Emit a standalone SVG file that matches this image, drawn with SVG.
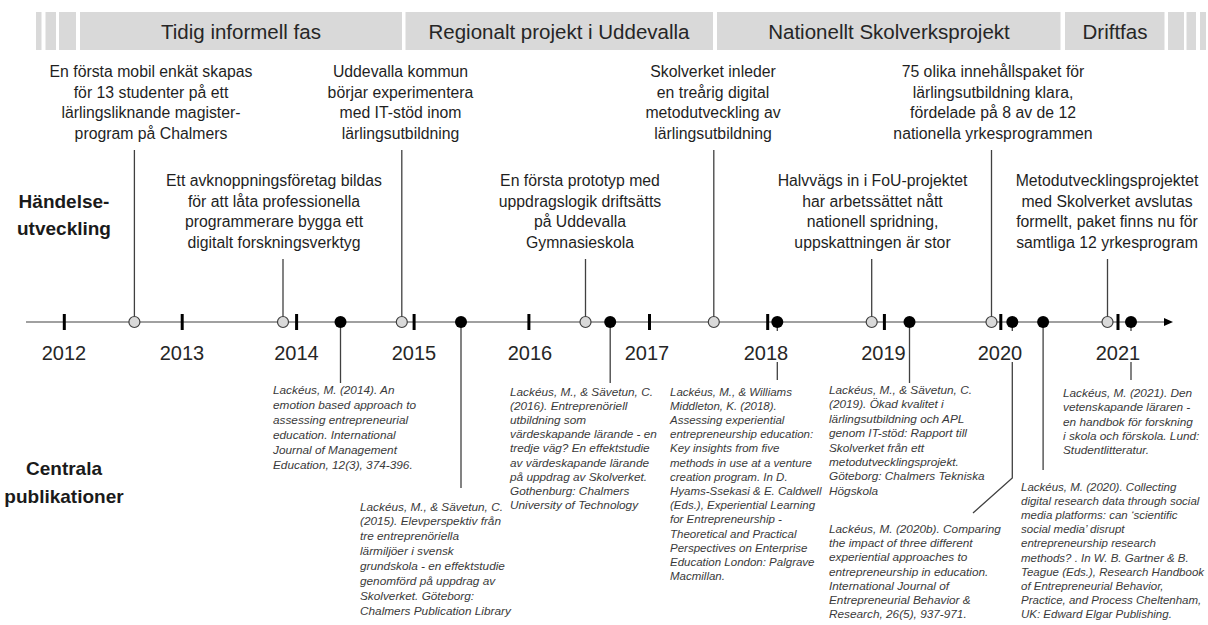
<svg xmlns="http://www.w3.org/2000/svg" width="1208" height="625" viewBox="0 0 1208 625">
  <style>
    text { font-family: "Liberation Sans", Arial, sans-serif; }
    .band { fill: #d9d9d9; }
    .band-t { font-size: 20.5px; fill: #262626; text-anchor: middle; }
    .ev { font-size: 15.8px; fill: #1f1f1f; text-anchor: middle; }
    .pub { font-size: 11.8px; font-style: italic; fill: #3a3a3a; }
    .pub-s { font-size: 11.5px; }
    .yr { font-size: 20px; fill: #262626; text-anchor: middle; }
    .lbl { font-size: 19px; font-weight: bold; fill: #1a1a1a; text-anchor: middle; }
    .conn { stroke: #404040; stroke-width: 1.3; fill: none; }
    .axis { stroke: #808080; stroke-width: 1.5; fill: none; }
    .ev-dot { fill: #d9d9d9; stroke: #404040; stroke-width: 1.2; }
    .pub-dot { fill: #000; }
    .tick { fill: #000; }
  </style>

  <!-- phase banner -->
  <g id="phases">
    <rect class="band" x="36" y="12" width="5.5" height="38"/>
    <rect class="band" x="45.5" y="12" width="10.5" height="38"/>
    <rect class="band" x="59" y="12" width="17" height="38"/>
    <g id="phase-tidig">
      <rect class="band" x="80" y="12" width="322" height="38"/>
      <text class="band-t" x="241" y="38.5">Tidig informell fas</text>
    </g>
    <g id="phase-regional">
      <rect class="band" x="405.5" y="12" width="307.5" height="38"/>
      <text class="band-t" x="559" y="38.5">Regionalt projekt i Uddevalla</text>
    </g>
    <g id="phase-national">
      <rect class="band" x="717" y="12" width="343.5" height="38"/>
      <text class="band-t" x="889" y="38.5">Nationellt Skolverksprojekt</text>
    </g>
    <g id="phase-drift">
      <rect class="band" x="1065" y="12" width="99.5" height="38"/>
      <text class="band-t" x="1115" y="38.5">Driftfas</text>
    </g>
    <rect class="band" x="1168" y="12" width="16" height="38"/>
    <rect class="band" x="1186.5" y="12" width="9.5" height="38"/>
    <rect class="band" x="1200" y="12" width="6" height="38"/>
  </g>

  <!-- row labels -->
  <g id="label-events">
    <text class="lbl" x="64" y="208">Händelse-</text>
    <text class="lbl" x="64" y="235">utveckling</text>
  </g>
  <g id="label-pubs">
    <text class="lbl" x="64" y="475">Centrala</text>
    <text class="lbl" x="64" y="503">publikationer</text>
  </g>

  <!-- connectors: axis, event stems and publication stems -->
  <g id="connectors">
    <line class="axis" x1="26" y1="322" x2="1166" y2="322"/>
    <polygon points="1173,322 1164,318 1164,326" fill="#000"/>

    <line class="conn" x1="134.4" y1="150" x2="134.4" y2="316.5"/>
    <line class="conn" x1="283" y1="259" x2="283" y2="316.5"/>
    <line class="conn" x1="401.8" y1="150" x2="401.8" y2="316.5"/>
    <line class="conn" x1="585.5" y1="259" x2="585.5" y2="316.5"/>
    <line class="conn" x1="713.8" y1="150" x2="713.8" y2="316.5"/>
    <line class="conn" x1="871.7" y1="259" x2="871.7" y2="316.5"/>
    <line class="conn" x1="991.5" y1="150" x2="991.5" y2="316.5"/>
    <line class="conn" x1="1107.5" y1="259" x2="1107.5" y2="316.5"/>

    <line class="conn" x1="340.5" y1="322" x2="340.5" y2="383"/>
    <line class="conn" x1="461" y1="322" x2="461" y2="488"/>
    <line class="conn" x1="610.2" y1="322" x2="610.2" y2="383"/>
    <line class="conn" x1="777.3" y1="322" x2="777.3" y2="331"/>
    <line class="conn" x1="777.3" y1="362" x2="777.3" y2="380"/>
    <line class="conn" x1="909.5" y1="322" x2="909.5" y2="383"/>
    <line class="conn" x1="1012.3" y1="322" x2="1012.3" y2="331"/>
    <polyline class="conn" points="1012.3,362 1012.3,478 973,513"/>
    <line class="conn" x1="1043.1" y1="322" x2="1043.1" y2="470"/>
    <line class="conn" x1="1131" y1="322" x2="1131" y2="331"/>
    <line class="conn" x1="1131" y1="362" x2="1131" y2="380"/>
  </g>

  <!-- year ticks and labels -->
  <g id="years">
    <rect class="tick" x="62.8" y="314" width="3" height="16"/>
    <rect class="tick" x="180.7" y="314" width="3" height="16"/>
    <rect class="tick" x="295.1" y="314" width="3" height="16"/>
    <rect class="tick" x="412.6" y="314" width="3" height="16"/>
    <rect class="tick" x="527.4" y="314" width="3" height="16"/>
    <rect class="tick" x="648" y="314" width="3" height="16"/>
    <rect class="tick" x="766.2" y="314" width="3" height="16"/>
    <rect class="tick" x="882.9" y="314" width="3" height="16"/>
    <rect class="tick" x="999.3" y="314" width="3" height="16"/>
    <rect class="tick" x="1116.5" y="314" width="3" height="16"/>
    <text class="yr" x="64" y="360">2012</text>
    <text class="yr" x="182" y="360">2013</text>
    <text class="yr" x="296.5" y="360">2014</text>
    <text class="yr" x="414" y="360">2015</text>
    <text class="yr" x="530" y="360">2016</text>
    <text class="yr" x="647" y="360">2017</text>
    <text class="yr" x="766" y="360">2018</text>
    <text class="yr" x="883.5" y="360">2019</text>
    <text class="yr" x="1000" y="360">2020</text>
    <text class="yr" x="1118" y="360">2021</text>
  </g>

  <!-- events -->
  <g id="event-2012">
    <circle class="ev-dot" cx="134.4" cy="322" r="5.5"/>
    <text class="ev" x="151" y="77">En första mobil enkät skapas</text>
    <text class="ev" x="151" y="97.5">för 13 studenter på ett</text>
    <text class="ev" x="151" y="118">lärlingsliknande magister-</text>
    <text class="ev" x="151" y="138.5">program på Chalmers</text>
  </g>
  <g id="event-2013">
    <circle class="ev-dot" cx="283" cy="322" r="5.5"/>
    <text class="ev" x="274" y="186">Ett avknoppningsföretag bildas</text>
    <text class="ev" x="274" y="206.5">för att låta professionella</text>
    <text class="ev" x="274" y="227">programmerare bygga ett</text>
    <text class="ev" x="274" y="247.5">digitalt forskningsverktyg</text>
  </g>
  <g id="event-2014">
    <circle class="ev-dot" cx="401.8" cy="322" r="5.5"/>
    <text class="ev" x="400.5" y="77">Uddevalla kommun</text>
    <text class="ev" x="400.5" y="97.5">börjar experimentera</text>
    <text class="ev" x="400.5" y="118">med IT-stöd inom</text>
    <text class="ev" x="400.5" y="138.5">lärlingsutbildning</text>
  </g>
  <g id="event-2016">
    <circle class="ev-dot" cx="585.5" cy="322" r="5.5"/>
    <text class="ev" x="580" y="186">En första prototyp med</text>
    <text class="ev" x="580" y="206.5">uppdragslogik driftsätts</text>
    <text class="ev" x="580" y="227">på Uddevalla</text>
    <text class="ev" x="580" y="247.5">Gymnasieskola</text>
  </g>
  <g id="event-2017">
    <circle class="ev-dot" cx="713.8" cy="322" r="5.5"/>
    <text class="ev" x="713" y="77">Skolverket inleder</text>
    <text class="ev" x="713" y="97.5">en treårig digital</text>
    <text class="ev" x="713" y="118">metodutveckling av</text>
    <text class="ev" x="713" y="138.5">lärlingsutbildning</text>
  </g>
  <g id="event-2018">
    <circle class="ev-dot" cx="871.7" cy="322" r="5.5"/>
    <text class="ev" x="872.5" y="186">Halvvägs in i FoU-projektet</text>
    <text class="ev" x="872.5" y="206.5">har arbetssättet nått</text>
    <text class="ev" x="872.5" y="227">nationell spridning,</text>
    <text class="ev" x="872.5" y="247.5">uppskattningen är stor</text>
  </g>
  <g id="event-2019">
    <circle class="ev-dot" cx="991.5" cy="322" r="5.5"/>
    <text class="ev" x="993" y="77">75 olika innehållspaket för</text>
    <text class="ev" x="993" y="97.5">lärlingsutbildning klara,</text>
    <text class="ev" x="993" y="118">fördelade på 8 av de 12</text>
    <text class="ev" x="993" y="138.5">nationella yrkesprogrammen</text>
  </g>
  <g id="event-2020">
    <circle class="ev-dot" cx="1107.5" cy="322" r="5.5"/>
    <text class="ev" x="1107" y="186">Metodutvecklingsprojektet</text>
    <text class="ev" x="1107" y="206.5">med Skolverket avslutas</text>
    <text class="ev" x="1107" y="227">formellt, paket finns nu för</text>
    <text class="ev" x="1107" y="247.5">samtliga 12 yrkesprogram</text>
  </g>

  <!-- publications -->
  <g id="pub-2014">
    <circle class="pub-dot" cx="340.5" cy="322" r="6"/>
    <text class="pub" x="273" y="394">Lackéus, M. (2014). An</text>
    <text class="pub" x="273" y="409">emotion based approach to</text>
    <text class="pub" x="273" y="424">assessing entrepreneurial</text>
    <text class="pub" x="273" y="439">education. International</text>
    <text class="pub" x="273" y="454">Journal of Management</text>
    <text class="pub" x="273" y="469">Education, 12(3), 374-396.</text>
  </g>
  <g id="pub-2015">
    <circle class="pub-dot" cx="461" cy="322" r="6"/>
    <text class="pub" x="360" y="510.5">Lackéus, M., &amp; Sävetun, C.</text>
    <text class="pub" x="360" y="525.4">(2015). Elevperspektiv från</text>
    <text class="pub" x="360" y="540.3">tre entreprenöriella</text>
    <text class="pub" x="360" y="555.2">lärmiljöer i svensk</text>
    <text class="pub" x="360" y="570.1">grundskola - en effektstudie</text>
    <text class="pub" x="360" y="585">genomförd på uppdrag av</text>
    <text class="pub" x="360" y="599.9">Skolverket. Göteborg:</text>
    <text class="pub" x="360" y="614.8">Chalmers Publication Library</text>
  </g>
  <g id="pub-2016">
    <circle class="pub-dot" cx="610.2" cy="322" r="6"/>
    <text class="pub" x="510" y="395.5">Lackéus, M., &amp; Sävetun, C.</text>
    <text class="pub" x="510" y="409.7">(2016). Entreprenöriell</text>
    <text class="pub" x="510" y="423.9">utbildning som</text>
    <text class="pub" x="510" y="438.1">värdeskapande lärande - en</text>
    <text class="pub" x="510" y="452.3">tredje väg? En effektstudie</text>
    <text class="pub" x="510" y="466.5">av värdeskapande lärande</text>
    <text class="pub" x="510" y="480.7">på uppdrag av Skolverket.</text>
    <text class="pub" x="510" y="494.9">Gothenburg: Chalmers</text>
    <text class="pub" x="510" y="509.1">University of Technology</text>
  </g>
  <g id="pub-2018">
    <circle class="pub-dot" cx="777.3" cy="322" r="6"/>
    <text class="pub pub-s" x="670" y="395.5">Lackéus, M., &amp; Williams</text>
    <text class="pub pub-s" x="670" y="409.7">Middleton, K. (2018).</text>
    <text class="pub pub-s" x="670" y="423.9">Assessing experiential</text>
    <text class="pub pub-s" x="670" y="438.1">entrepreneurship education:</text>
    <text class="pub pub-s" x="670" y="452.3">Key insights from five</text>
    <text class="pub pub-s" x="670" y="466.5">methods in use at a venture</text>
    <text class="pub pub-s" x="670" y="480.7">creation program. In D.</text>
    <text class="pub pub-s" x="670" y="494.9">Hyams-Ssekasi &amp; E. Caldwell</text>
    <text class="pub pub-s" x="670" y="509.1">(Eds.), Experiential Learning</text>
    <text class="pub pub-s" x="670" y="523.3">for Entrepreneurship -</text>
    <text class="pub pub-s" x="670" y="537.5">Theoretical and Practical</text>
    <text class="pub pub-s" x="670" y="551.7">Perspectives on Enterprise</text>
    <text class="pub pub-s" x="670" y="565.9">Education London: Palgrave</text>
    <text class="pub pub-s" x="670" y="580.1">Macmillan.</text>
  </g>
  <g id="pub-2019">
    <circle class="pub-dot" cx="909.5" cy="322" r="6"/>
    <text class="pub" x="829" y="394">Lackéus, M., &amp; Sävetun, C.</text>
    <text class="pub" x="829" y="408.4">(2019). Ökad kvalitet i</text>
    <text class="pub" x="829" y="422.8">lärlingsutbildning och APL</text>
    <text class="pub" x="829" y="437.2">genom IT-stöd: Rapport till</text>
    <text class="pub" x="829" y="451.6">Skolverket från ett</text>
    <text class="pub" x="829" y="466">metodutvecklingsprojekt.</text>
    <text class="pub" x="829" y="480.4">Göteborg: Chalmers Tekniska</text>
    <text class="pub" x="829" y="494.8">Högskola</text>
  </g>
  <g id="pub-2020b">
    <circle class="pub-dot" cx="1012.3" cy="322" r="6"/>
    <text class="pub" x="829" y="533">Lackéus, M. (2020b). Comparing</text>
    <text class="pub" x="829" y="547.2">the impact of three different</text>
    <text class="pub" x="829" y="561.4">experiential approaches to</text>
    <text class="pub" x="829" y="575.6">entrepreneurship in education.</text>
    <text class="pub" x="829" y="589.8">International Journal of</text>
    <text class="pub" x="829" y="604">Entrepreneurial Behavior &amp;</text>
    <text class="pub" x="829" y="618.2">Research, 26(5), 937-971.</text>
  </g>
  <g id="pub-2020">
    <circle class="pub-dot" cx="1043.1" cy="322" r="6"/>
    <text class="pub pub-s" x="1021" y="490.5">Lackéus, M. (2020). Collecting</text>
    <text class="pub pub-s" x="1021" y="504.7">digital research data through social</text>
    <text class="pub pub-s" x="1021" y="518.9">media platforms: can ‘scientific</text>
    <text class="pub pub-s" x="1021" y="533.1">social media’ disrupt</text>
    <text class="pub pub-s" x="1021" y="547.3">entrepreneurship research</text>
    <text class="pub pub-s" x="1021" y="561.5">methods? . In W. B. Gartner &amp; B.</text>
    <text class="pub pub-s" x="1021" y="575.7">Teague (Eds.), Research Handbook</text>
    <text class="pub pub-s" x="1021" y="589.9">of Entrepreneurial Behavior,</text>
    <text class="pub pub-s" x="1021" y="604.1">Practice, and Process Cheltenham,</text>
    <text class="pub pub-s" x="1021" y="618.3">UK: Edward Elgar Publishing.</text>
  </g>
  <g id="pub-2021">
    <circle class="pub-dot" cx="1131" cy="322" r="6"/>
    <text class="pub" x="1063" y="397">Lackéus, M. (2021). Den</text>
    <text class="pub" x="1063" y="411.3">vetenskapande läraren -</text>
    <text class="pub" x="1063" y="425.6">en handbok för forskning</text>
    <text class="pub" x="1063" y="439.9">i skola och förskola. Lund:</text>
    <text class="pub" x="1063" y="454.2">Studentlitteratur.</text>
  </g>
</svg>
